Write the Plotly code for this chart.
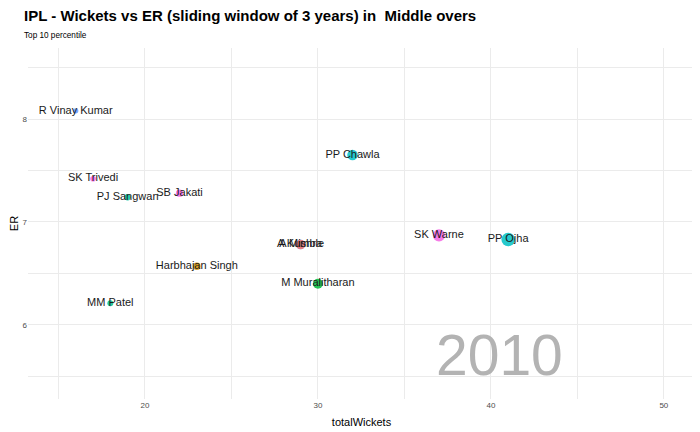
import plotly.graph_objects as go

players = ["R Vinay Kumar", "SK Trivedi", "PJ Sangwan", "SB Jakati", "PP Chawla",
           "A Kumble", "A Mishra", "SK Warne", "PP Ojha", "M Muralitharan",
           "Harbhajan Singh", "MM Patel"]
wickets = [16, 17, 19, 22, 32, 29, 29, 37, 41, 30, 23, 18]
er = [8.08, 7.42, 7.24, 7.28, 7.65, 6.78, 6.78, 6.87, 6.83, 6.40, 6.57, 6.21]
colors = ["#619CFF", "#F564E3", "#00C19F", "#F564E3", "#00BFC4",
          "#619CFF", "#F8766D", "#F564E3", "#00BFC4", "#00BA38",
          "#D39200", "#00C08B"]
year_label = "2010"
title = "IPL - Wickets vs ER (sliding window of 3 years) in \u00a0Middle overs"
subtitle = "Top 10 percentile"

font = "Liberation Sans, Arial, sans-serif"

fig = go.Figure()
fig.add_trace(go.Scatter(
    x=wickets, y=er, mode="markers",
    marker=dict(size=wickets, sizemode="diameter", sizeref=41 / 13.5,
                color=colors, opacity=0.85, line=dict(width=0)),
    hoverinfo="skip", showlegend=False))
fig.add_trace(go.Scatter(
    x=wickets, y=er, mode="text", text=players,
    textfont=dict(family=font, size=11, color="#1a1a1a"),
    textposition="middle center", hoverinfo="skip", showlegend=False))

fig.add_annotation(x=40.5, y=5.71, xref="x", yref="y", text=year_label,
                   showarrow=False, font=dict(family=font, size=57, color="#B3B3B3"),
                   xanchor="center", yanchor="middle")
fig.add_annotation(x=-6 / 667, y=1 + 32 / 351, xref="paper", yref="paper", text="<b>" + title + "</b>",
                   showarrow=False, font=dict(family=font, size=15, color="#000000"),
                   xanchor="left", yanchor="middle")
fig.add_annotation(x=-6 / 667, y=1 + 13 / 351, xref="paper", yref="paper", text=subtitle,
                   showarrow=False, font=dict(family=font, size=8.2, color="#000000"),
                   xanchor="left", yanchor="middle")

axis_common = dict(showline=False, zeroline=False, ticks="", automargin=False,
                   gridcolor="#EBEBEB", gridwidth=1.1,
                   tickfont=dict(family=font, size=8, color="#4D4D4D"))
fig.update_xaxes(range=[13.24, 51.8], tick0=0, dtick=10,
                 minor=dict(dtick=5, gridcolor="#EBEBEB", gridwidth=0.6, showgrid=True),
                 title=dict(text="totalWickets", font=dict(family=font, size=11, color="#000000"), standoff=9),
                 **axis_common)
fig.update_yaxes(range=[5.28, 8.69], tick0=0, dtick=1,
                 minor=dict(dtick=0.5, gridcolor="#EBEBEB", gridwidth=0.6, showgrid=True),
                 title=dict(text="ER", font=dict(family=font, size=11, color="#000000"), standoff=9),
                 **axis_common)

# page body has an 8px default margin, so margins are shifted to compensate
fig.update_layout(width=700, height=432, plot_bgcolor="white", paper_bgcolor="white",
                  margin=dict(l=20, r=13, t=40, b=41), font=dict(family=font))

fig.write_html("out.html")
